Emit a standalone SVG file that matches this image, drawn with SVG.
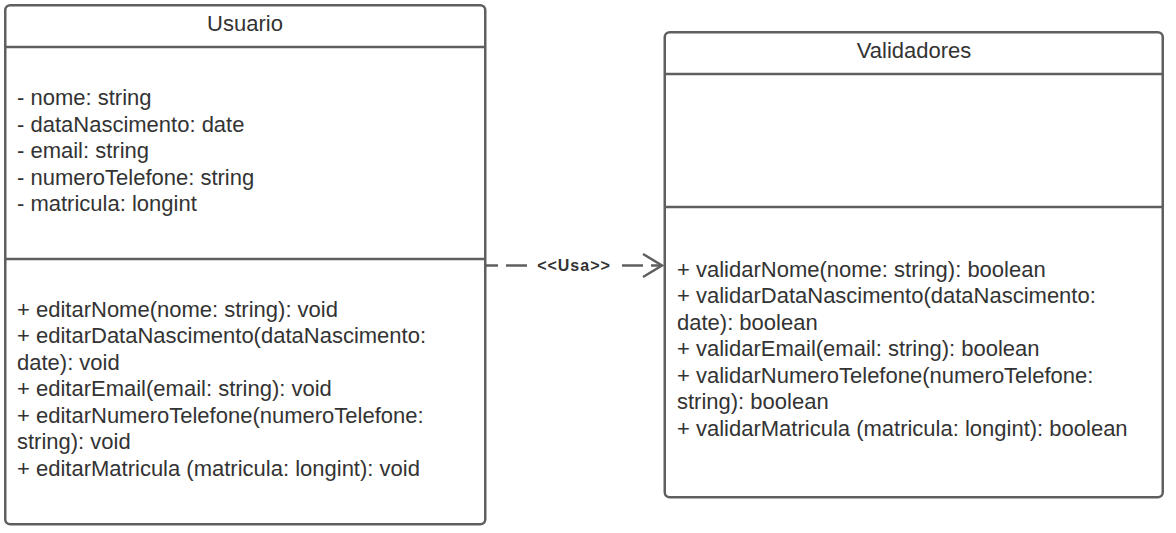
<svg xmlns="http://www.w3.org/2000/svg" width="1176" height="533" viewBox="0 0 1176 533">
<defs>
<style>
.box{fill:#fff;stroke:#5f5f5f;stroke-width:2.5}
.sep{stroke:#5f5f5f;stroke-width:2.5}
.t{font-family:"Liberation Sans",Arial,sans-serif;font-size:22px;fill:#333}
.h{text-anchor:middle}
.conn{stroke:#5f5f5f;stroke-width:2.5;fill:none}
.lbl{font-family:"Liberation Sans",Arial,sans-serif;font-size:16px;font-weight:bold;fill:#333;text-anchor:middle;letter-spacing:1px}
</style>
</defs>
<rect width="1176" height="533" fill="#fff"/>
<g id="connectors">
<line class="conn" x1="485" y1="265.5" x2="660" y2="265.5" stroke-dasharray="13 8 21 8 21 8 21 8 21 8 21 8 21 8 21 8" />
<rect x="531" y="255" width="86" height="20" fill="#fff"/>
<text class="lbl" x="574" y="271">&lt;&lt;Usa&gt;&gt;</text>
<polyline class="conn" points="643,254 662,265.5 643,277"/>
</g>
<g id="usuario">
<rect class="box" x="5.25" y="5.25" width="480" height="519" rx="5"/>
<line class="sep" x1="5" y1="47" x2="485" y2="47"/>
<line class="sep" x1="5" y1="259" x2="485" y2="259"/>
<text class="t h" x="245" y="31">Usuario</text>
<text class="t" x="17" y="105">- nome: string</text>
<text class="t" x="17" y="131.5">- dataNascimento: date</text>
<text class="t" x="17" y="158">- email: string</text>
<text class="t" x="17" y="184.5">- numeroTelefone: string</text>
<text class="t" x="17" y="211">- matricula: longint</text>
<text class="t" x="17" y="316.5">+ editarNome(nome: string): void</text>
<text class="t" x="17" y="343">+ editarDataNascimento(dataNascimento:</text>
<text class="t" x="17" y="369.5">date): void</text>
<text class="t" x="17" y="396">+ editarEmail(email: string): void</text>
<text class="t" x="17" y="422.5">+ editarNumeroTelefone(numeroTelefone:</text>
<text class="t" x="17" y="449">string): void</text>
<text class="t" x="17" y="475.5">+ editarMatricula (matricula: longint): void</text>
</g>
<g id="validadores">
<rect class="box" x="664.75" y="32.25" width="498" height="465" rx="5"/>
<line class="sep" x1="665" y1="74" x2="1163" y2="74"/>
<line class="sep" x1="665" y1="207" x2="1163" y2="207"/>
<text class="t h" x="914" y="58">Validadores</text>
<text class="t" x="677" y="276.5">+ validarNome(nome: string): boolean</text>
<text class="t" x="677" y="303">+ validarDataNascimento(dataNascimento:</text>
<text class="t" x="677" y="329.5">date): boolean</text>
<text class="t" x="677" y="356">+ validarEmail(email: string): boolean</text>
<text class="t" x="677" y="382.5">+ validarNumeroTelefone(numeroTelefone:</text>
<text class="t" x="677" y="409">string): boolean</text>
<text class="t" x="677" y="435.5">+ validarMatricula (matricula: longint): boolean</text>
</g>
</svg>
